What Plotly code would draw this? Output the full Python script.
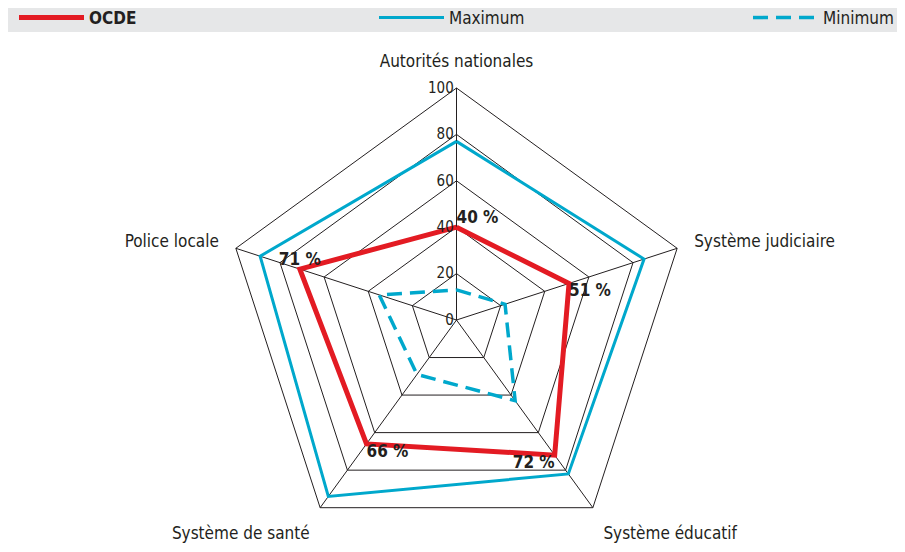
import plotly.graph_objects as go

categories = ["Autorités nationales", "Système judiciaire", "Système éducatif",
              "Système de santé", "Police locale"]
ocde = [40, 51, 72, 66, 71]
maximum = [77, 85, 82, 94, 89]
minimum = [13, 22, 43, 29, 35]
radial_ticks = [0, 20, 40, 60, 80, 100]
ocde_label_pos = ["top right", "bottom right", "bottom left", "bottom right", "top center"]

FONT = "Liberation Sans Narrow, DejaVu Sans Condensed, Arial Narrow, sans-serif"
INK = "#231f20"
RED = "#e31b23"
BLUE = "#00a8cc"

W, H = 897, 544  # page body has an 8px margin


def closed(vals):
    return list(vals) + [vals[0]]


theta_c = closed(categories)

fig = go.Figure()
fig.add_trace(go.Scatterpolar(
    r=closed(ocde), theta=theta_c, mode="lines", name="<b>OCDE</b>",
    line=dict(color=RED, width=5), legend="legend"))
fig.add_trace(go.Scatterpolar(
    r=closed(maximum), theta=theta_c, mode="lines", name="Maximum",
    line=dict(color=BLUE, width=3), legend="legend2"))
fig.add_trace(go.Scatterpolar(
    r=closed(minimum), theta=theta_c, mode="lines", name="Minimum",
    line=dict(color=BLUE, width=3.5, dash="15px,8px"), legend="legend3"))
# percentage labels for OCDE
fig.add_trace(go.Scatterpolar(
    r=ocde, theta=categories, mode="text",
    text=[f"{v} %" for v in ocde], textposition=ocde_label_pos,
    textfont=dict(family=FONT, size=17, color=INK, weight="bold"),
    showlegend=False, hoverinfo="skip"))

legend_common = dict(orientation="h", yanchor="top", y=1 + 8 / H, bgcolor="rgba(0,0,0,0)",
                     font=dict(family=FONT, size=17, color=INK), itemwidth=65)

fig.update_layout(
    width=W, height=H,
    margin=dict(l=0, r=0, t=0, b=0, autoexpand=False),
    paper_bgcolor="white",
    font=dict(family=FONT, size=17, color=INK),
    polar=dict(
        domain=dict(x=[0.0, 1.0], y=[0.0, 464 / H]),
        bgcolor="white",
        gridshape="linear",
        angularaxis=dict(
            categoryorder="array", categoryarray=categories,
            rotation=90, direction="clockwise",
            showline=True, linecolor=INK, linewidth=1,
            gridcolor=INK, gridwidth=1,
            ticks="outside", ticklen=14, tickcolor="rgba(0,0,0,0)",
            tickfont=dict(family=FONT, size=17, color=INK),
            layer="below traces"),
        radialaxis=dict(
            range=[0, 100], tickvals=radial_ticks, showticklabels=True,
            side="counterclockwise", tickangle=90,
            tickfont=dict(family=FONT, size=15, color=INK),
            showline=False, ticks="", gridcolor=INK, gridwidth=1,
            angle=90, layer="above traces"),
    ),
    legend=dict(x=6 / W, xanchor="left", **legend_common),
    legend2=dict(x=366 / W, xanchor="left", **legend_common),
    legend3=dict(x=740 / W, xanchor="left", **legend_common),
    shapes=[dict(type="rect", xref="paper", yref="paper", x0=0, x1=1,
                 y0=1 - 24 / H, y1=1, fillcolor="#e6e7e8", line=dict(width=0),
                 layer="below")],
)

fig.write_html("out.html")
